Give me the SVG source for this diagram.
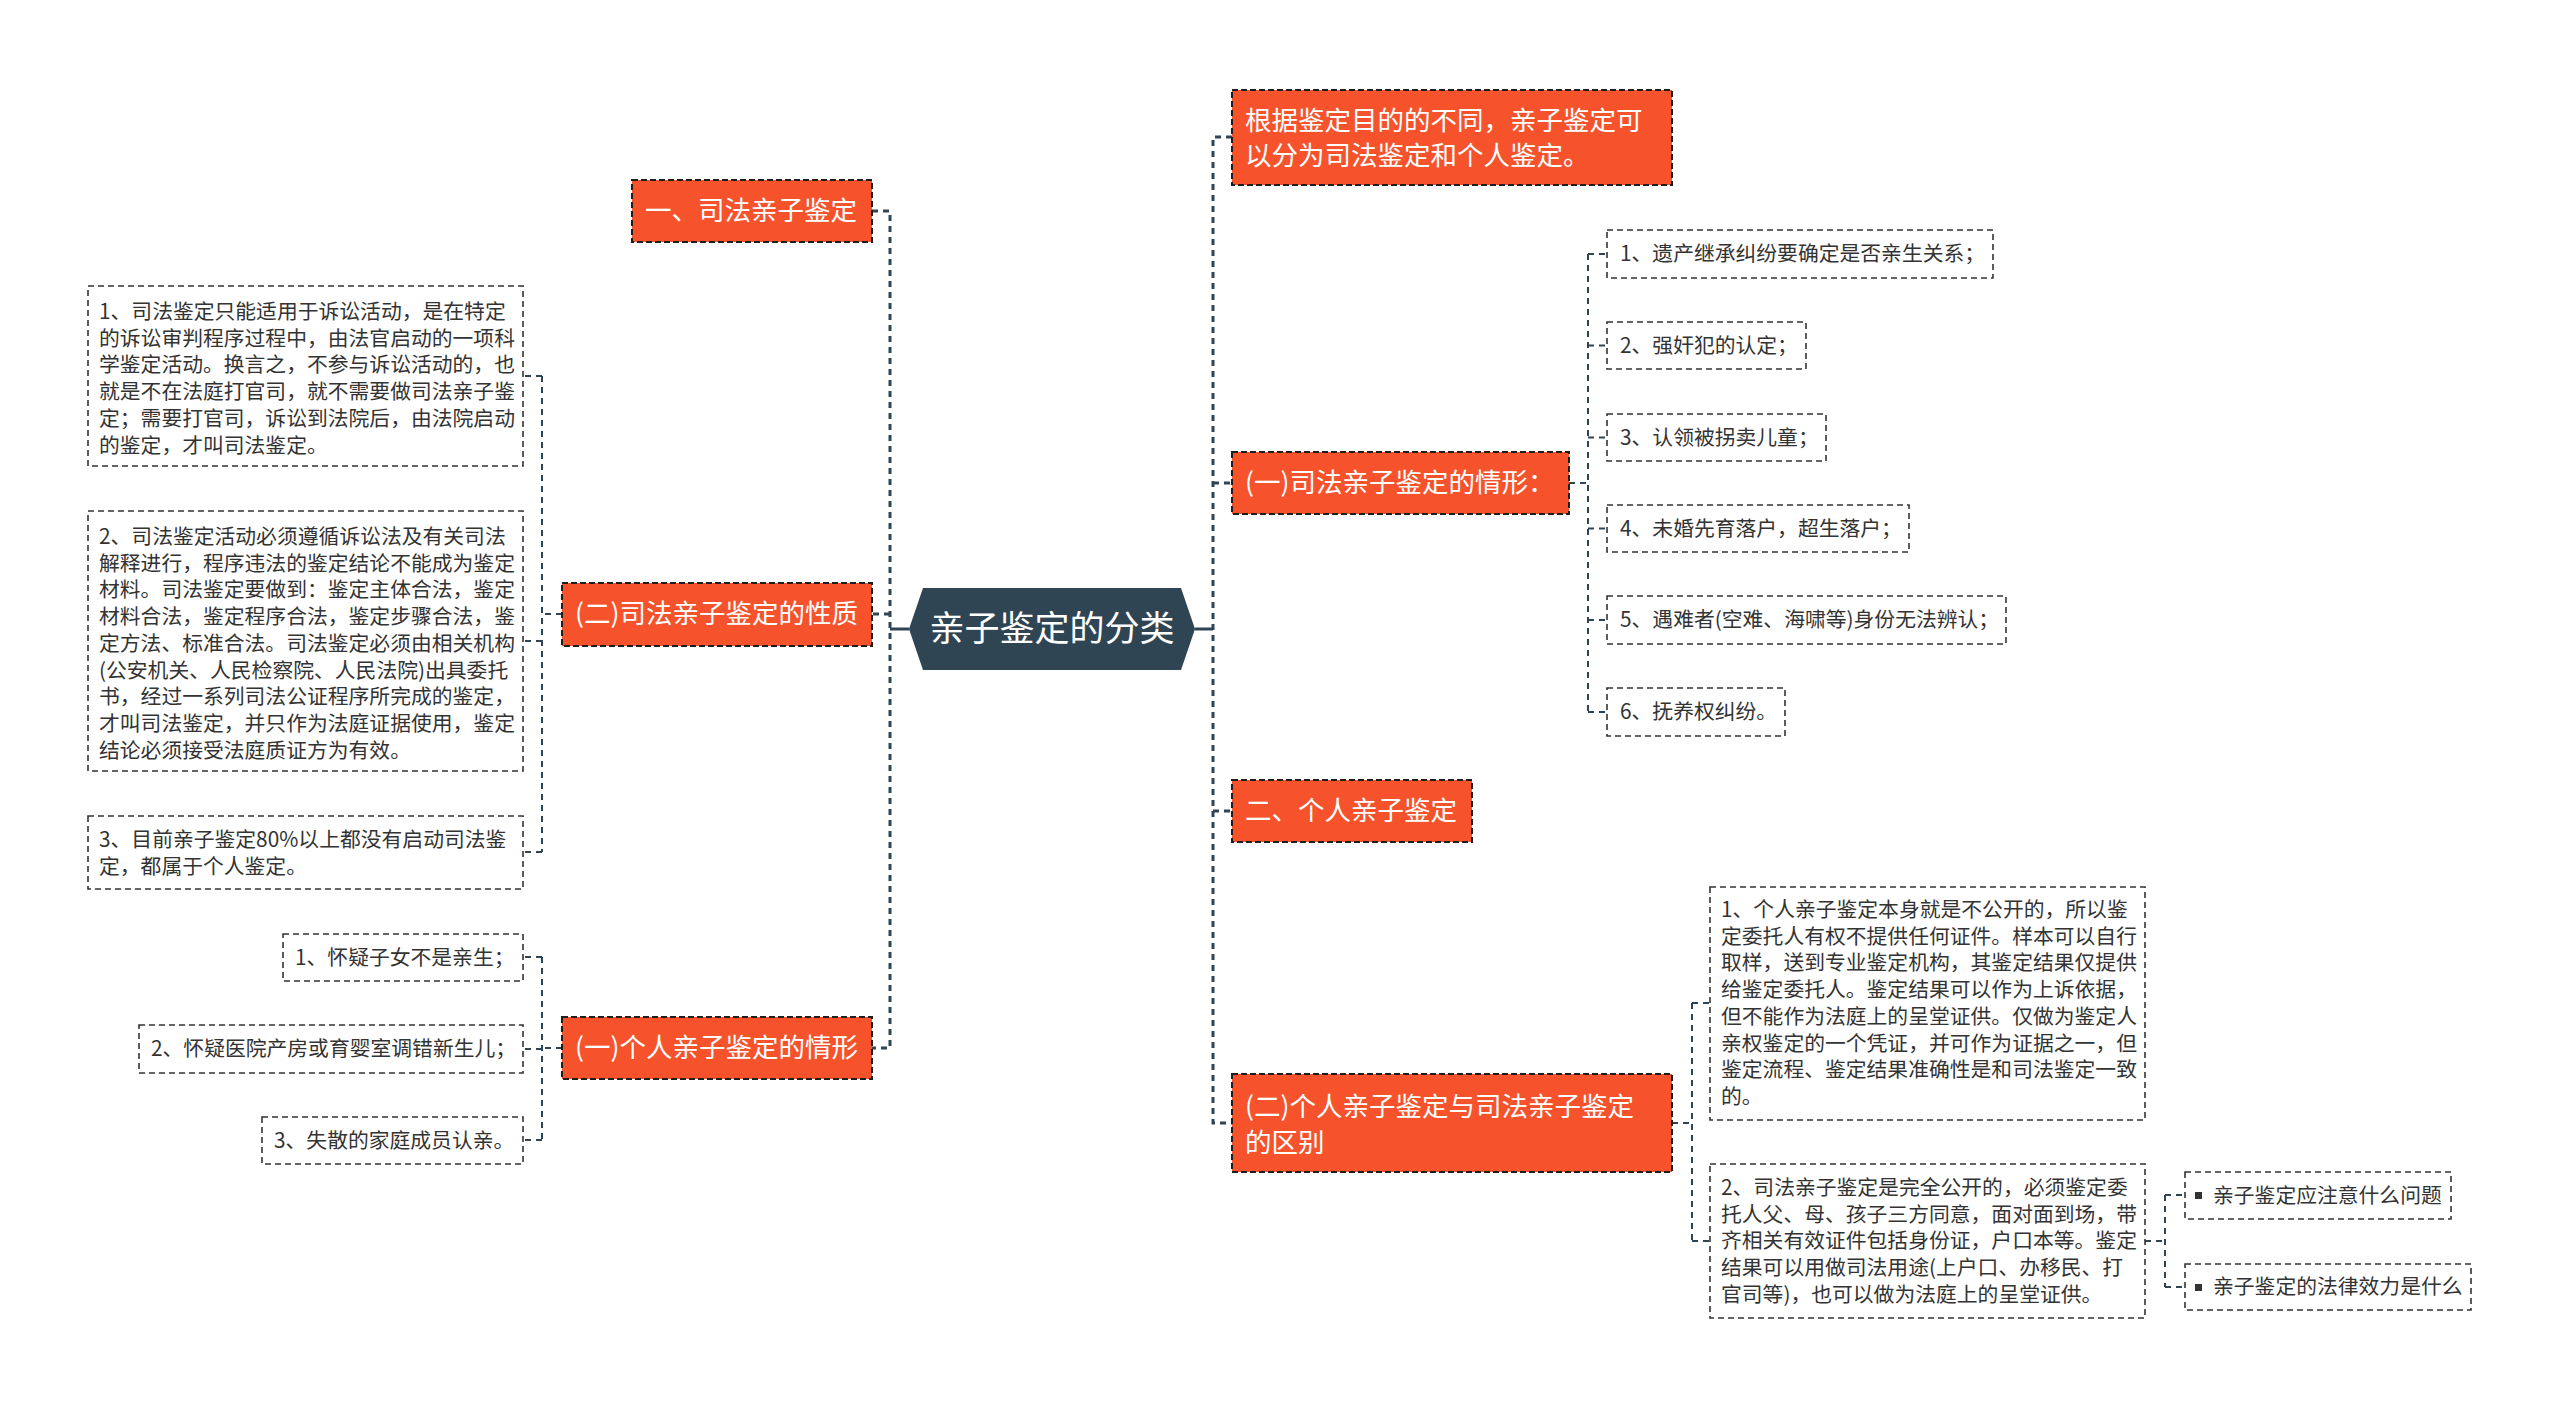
<svg xmlns="http://www.w3.org/2000/svg" width="2560" height="1407" viewBox="0 0 2560 1407">
<style>
text{font-family:"Noto Sans CJK SC","Noto Sans",sans-serif;}
.hex{fill:#2f4554;}
.ctext{fill:#ffffff;font-size:35px;}
.obox{fill:#f6532d;stroke:#1e1e1e;stroke-width:2;stroke-dasharray:6 3;}
.otext{fill:#ffffff;font-size:26.5px;}
.ibox{fill:#ffffff;stroke:#333333;stroke-width:1.6;stroke-dasharray:6 4;}
.itext{fill:#333333;font-size:20.8px;}
.main{fill:none;stroke:#2f4554;stroke-width:3;stroke-dasharray:6 5;}
.solid{fill:none;stroke:#2f4554;stroke-width:3;}
.sub{fill:none;stroke:#2f4554;stroke-width:2;stroke-dasharray:6 5;}
.bullet{fill:#333333;}
</style>
<rect width="2560" height="1407" fill="#ffffff"/>
<g id="connectors">
<path class="solid" d="M1195,629 H1213"/>
<path class="main" d="M1232,137 H1213 V1123 H1232 M1213,483 H1232 M1213,811 H1232"/>
<path class="solid" d="M909,629 H890"/>
<path class="main" d="M872,211 H890 V1048 H872 M890,614 H872"/>
<path class="sub" d="M1569,483 H1588 M1588,254 V712 M1588,254 H1607 M1588,345.5 H1607 M1588,437.5 H1607 M1588,528.5 H1607 M1588,620 H1607 M1588,712 H1607"/>
<path class="sub" d="M1672,1123 H1692 M1692,1003 V1241 M1692,1003 H1710 M1692,1241 H1710"/>
<path class="sub" d="M2145,1241 H2165 M2165,1195 V1287 M2165,1195 H2185 M2165,1287 H2185"/>
<path class="sub" d="M562,614 H542 M542,376 V852 M542,376 H523 M542,641 H523 M542,852 H523"/>
<path class="sub" d="M562,1048 H542 M542,957 V1140 M542,957 H523 M542,1049 H523 M542,1140 H523"/>
</g>
<g id="center">
<polygon class="hex" points="909,629 923,588 1181,588 1195,629 1181,670 923,670"/>
<text class="ctext" x="1052" y="641" text-anchor="middle">亲子鉴定的分类</text>
</g>
<g id="r1">
<rect class="obox" x="1232" y="90" width="440" height="95"/>
<text class="otext" x="1245" y="130">根据鉴定目的的不同，亲子鉴定可</text>
<text class="otext" x="1245" y="165">以分为司法鉴定和个人鉴定。</text>
</g>
<g id="r2">
<rect class="obox" x="1232" y="452" width="337" height="62"/>
<text class="otext" x="1245" y="492">(一)司法亲子鉴定的情形：</text>
</g>
<g id="r2-1"><rect class="ibox" x="1607" y="230" width="386" height="48"/><text class="itext" x="1620" y="261">1、遗产继承纠纷要确定是否亲生关系；</text></g>
<g id="r2-2"><rect class="ibox" x="1607" y="322" width="199" height="47"/><text class="itext" x="1620" y="352.5">2、强奸犯的认定；</text></g>
<g id="r2-3"><rect class="ibox" x="1607" y="414" width="219" height="47"/><text class="itext" x="1620" y="444.5">3、认领被拐卖儿童；</text></g>
<g id="r2-4"><rect class="ibox" x="1607" y="505" width="302" height="47"/><text class="itext" x="1620" y="535.5">4、未婚先育落户，超生落户；</text></g>
<g id="r2-5"><rect class="ibox" x="1607" y="596" width="399" height="48"/><text class="itext" x="1620" y="627">5、遇难者(空难、海啸等)身份无法辨认；</text></g>
<g id="r2-6"><rect class="ibox" x="1607" y="688" width="178" height="48"/><text class="itext" x="1620" y="719">6、抚养权纠纷。</text></g>
<g id="r3">
<rect class="obox" x="1232" y="780" width="240" height="62"/>
<text class="otext" x="1245" y="820">二、个人亲子鉴定</text>
</g>
<g id="r4">
<rect class="obox" x="1232" y="1074" width="440" height="98"/>
<text class="otext" x="1245" y="1116">(二)个人亲子鉴定与司法亲子鉴定</text>
<text class="otext" x="1245" y="1152">的区别</text>
</g>
<g id="r4-1">
<rect class="ibox" x="1710" y="887" width="435" height="233"/>
<text class="itext" x="1721" y="917">1、个人亲子鉴定本身就是不公开的，所以鉴</text>
<text class="itext" x="1721" y="943.7">定委托人有权不提供任何证件。样本可以自行</text>
<text class="itext" x="1721" y="970.4">取样，送到专业鉴定机构，其鉴定结果仅提供</text>
<text class="itext" x="1721" y="997.1">给鉴定委托人。鉴定结果可以作为上诉依据，</text>
<text class="itext" x="1721" y="1023.8">但不能作为法庭上的呈堂证供。仅做为鉴定人</text>
<text class="itext" x="1721" y="1050.5">亲权鉴定的一个凭证，并可作为证据之一，但</text>
<text class="itext" x="1721" y="1077.2">鉴定流程、鉴定结果准确性是和司法鉴定一致</text>
<text class="itext" x="1721" y="1103.9">的。</text>
</g>
<g id="r4-2">
<rect class="ibox" x="1710" y="1164" width="435" height="154"/>
<text class="itext" x="1721" y="1195">2、司法亲子鉴定是完全公开的，必须鉴定委</text>
<text class="itext" x="1721" y="1221.7">托人父、母、孩子三方同意，面对面到场，带</text>
<text class="itext" x="1721" y="1248.4">齐相关有效证件包括身份证，户口本等。鉴定</text>
<text class="itext" x="1721" y="1275.1">结果可以用做司法用途(上户口、办移民、打</text>
<text class="itext" x="1721" y="1301.8">官司等)，也可以做为法庭上的呈堂证供。</text>
</g>
<g id="r4-2-1">
<rect class="ibox" x="2185" y="1172" width="266" height="47"/>
<rect class="bullet" x="2195" y="1192" width="7" height="7"/>
<text class="itext" x="2213" y="1202.5">亲子鉴定应注意什么问题</text>
</g>
<g id="r4-2-2">
<rect class="ibox" x="2185" y="1264" width="286" height="46"/>
<rect class="bullet" x="2195" y="1284" width="7" height="7"/>
<text class="itext" x="2213" y="1294">亲子鉴定的法律效力是什么</text>
</g>
<g id="l1">
<rect class="obox" x="632" y="180" width="240" height="62"/>
<text class="otext" x="645" y="220">一、司法亲子鉴定</text>
</g>
<g id="l2">
<rect class="obox" x="562" y="583" width="310" height="63"/>
<text class="otext" x="575" y="623">(二)司法亲子鉴定的性质</text>
</g>
<g id="l2-1">
<rect class="ibox" x="88" y="286" width="435" height="180"/>
<text class="itext" x="99" y="319">1、司法鉴定只能适用于诉讼活动，是在特定</text>
<text class="itext" x="99" y="345.7">的诉讼审判程序过程中，由法官启动的一项科</text>
<text class="itext" x="99" y="372.4">学鉴定活动。换言之，不参与诉讼活动的，也</text>
<text class="itext" x="99" y="399.1">就是不在法庭打官司，就不需要做司法亲子鉴</text>
<text class="itext" x="99" y="425.8">定；需要打官司，诉讼到法院后，由法院启动</text>
<text class="itext" x="99" y="452.5">的鉴定，才叫司法鉴定。</text>
</g>
<g id="l2-2">
<rect class="ibox" x="88" y="511" width="435" height="260"/>
<text class="itext" x="99" y="544">2、司法鉴定活动必须遵循诉讼法及有关司法</text>
<text class="itext" x="99" y="570.7">解释进行，程序违法的鉴定结论不能成为鉴定</text>
<text class="itext" x="99" y="597.4">材料。司法鉴定要做到：鉴定主体合法，鉴定</text>
<text class="itext" x="99" y="624.1">材料合法，鉴定程序合法，鉴定步骤合法，鉴</text>
<text class="itext" x="99" y="650.8">定方法、标准合法。司法鉴定必须由相关机构</text>
<text class="itext" x="99" y="677.5">(公安机关、人民检察院、人民法院)出具委托</text>
<text class="itext" x="99" y="704.2">书，经过一系列司法公证程序所完成的鉴定，</text>
<text class="itext" x="99" y="730.9">才叫司法鉴定，并只作为法庭证据使用，鉴定</text>
<text class="itext" x="99" y="757.6">结论必须接受法庭质证方为有效。</text>
</g>
<g id="l2-3">
<rect class="ibox" x="88" y="816" width="435" height="73"/>
<text class="itext" x="99" y="847">3、目前亲子鉴定80%以上都没有启动司法鉴</text>
<text class="itext" x="99" y="873.7">定，都属于个人鉴定。</text>
</g>
<g id="l3">
<rect class="obox" x="562" y="1017" width="310" height="62"/>
<text class="otext" x="575" y="1057">(一)个人亲子鉴定的情形</text>
</g>
<g id="l3-1"><rect class="ibox" x="283" y="934" width="240" height="47"/><text class="itext" x="295" y="964.5">1、怀疑子女不是亲生；</text></g>
<g id="l3-2"><rect class="ibox" x="139" y="1025" width="384" height="48"/><text class="itext" x="151" y="1056">2、怀疑医院产房或育婴室调错新生儿；</text></g>
<g id="l3-3"><rect class="ibox" x="262" y="1117" width="261" height="47"/><text class="itext" x="274" y="1147.5">3、失散的家庭成员认亲。</text></g>
</svg>
